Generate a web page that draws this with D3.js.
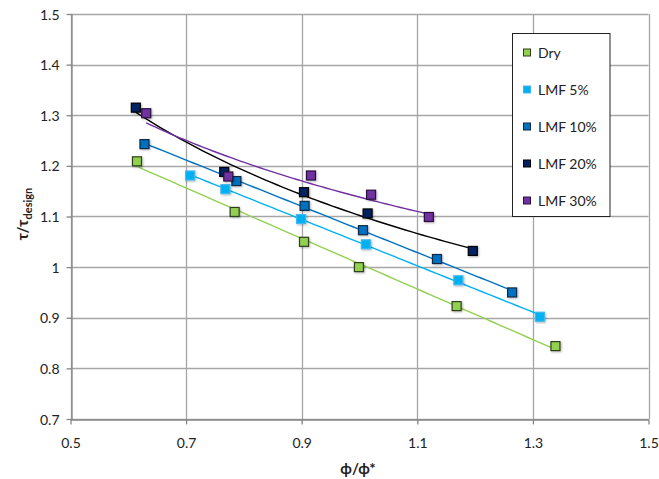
<!DOCTYPE html>
<html>
<head>
<meta charset="utf-8">
<script src="https://cdn.jsdelivr.net/npm/d3@7"></script>
<style>
  body { margin: 0; background: #fff; }
  svg { display: block; font-family: Lato, "Open Sans", "Liberation Sans", sans-serif; }
</style>
</head>
<body>
<svg id="chart" width="659" height="479"></svg>
<script>
// Shear-stress ratio against equivalence ratio, one series per LMF content
const seriesNames = ["Dry", "LMF 5%", "LMF 10%", "LMF 20%", "LMF 30%"];
const dryX   = [0.615, 0.784, 0.904, 0.999, 1.168, 1.339];
const dryY   = [1.209, 1.109, 1.050, 1.000, 0.923, 0.844];
const lmf5X  = [0.707, 0.768, 0.899, 1.011, 1.171, 1.312];
const lmf5Y  = [1.181, 1.154, 1.095, 1.045, 0.974, 0.902];
const lmf10X = [0.628, 0.787, 0.905, 1.006, 1.134, 1.264];
const lmf10Y = [1.243, 1.170, 1.121, 1.073, 1.016, 0.950];
const lmf20X = [0.613, 0.766, 0.904, 1.014, 1.196];
const lmf20Y = [1.315, 1.188, 1.148, 1.106, 1.032];
const lmf30X = [0.631, 0.773, 0.916, 1.020, 1.120];
const lmf30Y = [1.304, 1.179, 1.181, 1.143, 1.099];
const trendTypes = ["linear", "linear", "linear", "power", "power"];
const xTicks = [0.5, 0.7, 0.9, 1.1, 1.3, 1.5];
const yTicks = [0.7, 0.8, 0.9, 1.0, 1.1, 1.2, 1.3, 1.4, 1.5];

const fills   = ["#92D050", "#00B0F0", "#0070C0", "#002060", "#7030A0"];
const borders = ["#2f3f1a", "#3fb8f0", "#0b2a48", "#000000", "#2a1040"];
const lineCol = ["#92D050", "#00B0F0", "#0070C0", "#000000", "#7030A0"];

const xs = [dryX, lmf5X, lmf10X, lmf20X, lmf30X];
const ys = [dryY, lmf5Y, lmf10Y, lmf20Y, lmf30Y];
const series = seriesNames.map((name, i) => ({
  name, trend: trendTypes[i],
  pts: xs[i].map((x, j) => ({ x, y: ys[i][j] }))
}));

const svg = d3.select("#chart");
const x = d3.scaleLinear().domain([0.5, 1.5]).range([70.5, 648.5]);
const y = d3.scaleLinear().domain([0.7, 1.5]).range([419, 14]);

// gridlines
const grid = svg.append("g");
grid.selectAll("line.h").data(yTicks).join("line")
  .attr("x1", x(0.5)).attr("x2", x(1.5))
  .attr("y1", d => Math.round(y(d)) + 0.5).attr("y2", d => Math.round(y(d)) + 0.5)
  .attr("stroke", "#a6a6a6").attr("stroke-width", 1.3);
grid.selectAll("line.v").data(xTicks).join("line")
  .attr("y1", y(1.5)).attr("y2", y(0.7))
  .attr("x1", d => Math.round(x(d)) + 0.5).attr("x2", d => Math.round(x(d)) + 0.5)
  .attr("stroke", "#a6a6a6").attr("stroke-width", 1.3);

// axes
const fmt = d => d === 1 ? "1" : d3.format(".1f")(d);
const xAxis = svg.append("g").attr("transform", `translate(0,${Math.round(y(0.7)) + 0.5})`)
  .call(d3.axisBottom(x).tickValues(xTicks).tickFormat(fmt).tickSize(5).tickSizeOuter(0));
const yAxis = svg.append("g").attr("transform", `translate(${Math.round(x(0.5)) + 0.5},0)`)
  .call(d3.axisLeft(y).tickValues(yTicks).tickFormat(fmt).tickSize(5).tickSizeOuter(0));
[xAxis, yAxis].forEach(a => {
  a.select(".domain").attr("stroke", "#868686").attr("stroke-width", 1.3);
  a.selectAll(".tick line").attr("stroke", "#868686").attr("stroke-width", 1.3);
  a.selectAll("text").attr("fill", "#222").style("font-size", "14px")
   .style("font-family", "Lato, 'Open Sans', sans-serif");
});
xAxis.selectAll("text").attr("dy", "0").attr("y", 28);
yAxis.selectAll("text").attr("x", -12).attr("dy", "0.36em");

// trendlines
function fitLinear(p) {
  const mx = d3.mean(p, d => d.x), my = d3.mean(p, d => d.y);
  const b = d3.sum(p, d => (d.x - mx) * (d.y - my)) / d3.sum(p, d => (d.x - mx) ** 2);
  const a = my - b * mx;
  return v => a + b * v;
}
function fitPower(p) {
  const q = p.map(d => ({ x: Math.log(d.x), y: Math.log(d.y) }));
  const f = fitLinear(q);
  return v => Math.exp(f(Math.log(v)));
}
const line = d3.line().x(d => x(d.x)).y(d => y(d.y)).curve(d3.curveLinear);
series.forEach((s, i) => {
  const f = s.trend === "power" ? fitPower(s.pts) : fitLinear(s.pts);
  const [x0, x1] = d3.extent(s.pts, d => d.x);
  const curve = d3.range(0, 61).map(k => { const v = x0 + (x1 - x0) * k / 60; return { x: v, y: f(v) }; });
  svg.append("path").datum(curve).attr("d", line)
    .attr("fill", "none").attr("stroke", lineCol[i]).attr("stroke-width", 1.4);
});

// markers with a soft shadow
const defs = svg.append("defs");
const flt = defs.append("filter").attr("id", "shadow").attr("x", "-50%").attr("y", "-50%")
  .attr("width", "200%").attr("height", "200%");
flt.append("feDropShadow").attr("dx", 1).attr("dy", 1).attr("stdDeviation", 0.8)
  .attr("flood-color", "#000").attr("flood-opacity", 0.3);
const ms = 9;
series.forEach((s, i) => {
  svg.append("g").selectAll("rect").data(s.pts).join("rect")
    .attr("x", d => x(d.x) - ms / 2).attr("y", d => y(d.y) - ms / 2)
    .attr("width", ms).attr("height", ms)
    .attr("fill", fills[i]).attr("stroke", borders[i]).attr("stroke-width", 1.2)
    .attr("filter", "url(#shadow)");
});

// legend
const lg = svg.append("g");
lg.append("rect").attr("x", 512.5).attr("y", 33.5).attr("width", 97.5).attr("height", 183)
  .attr("fill", "#fff").attr("stroke", "#222").attr("stroke-width", 1);
seriesNames.forEach((n, i) => {
  const cy = 52.5 + i * 37;
  lg.append("rect").attr("x", 523.5).attr("y", cy - 3.5).attr("width", 7).attr("height", 7)
    .attr("fill", fills[i]).attr("stroke", borders[i]).attr("stroke-width", 1);
  lg.append("text").attr("x", 538).attr("y", cy).attr("dy", "0.36em")
    .style("font-size", "14px").attr("fill", "#222").text(n);
});

// axis titles
svg.append("text").attr("x", 358).attr("y", 474).attr("text-anchor", "middle")
  .style("font-size", "15px").style("font-weight", "bold").attr("fill", "#222").text("ϕ/ϕ*");
const yt = svg.append("text").attr("transform", "translate(28,214) rotate(-90)")
  .attr("text-anchor", "middle").style("font-weight", "bold").attr("fill", "#222");
yt.append("tspan").style("font-size", "15px").text("τ/τ");
yt.append("tspan").style("font-size", "11px").attr("dy", 4).text("design");
</script>
</body>
</html>
